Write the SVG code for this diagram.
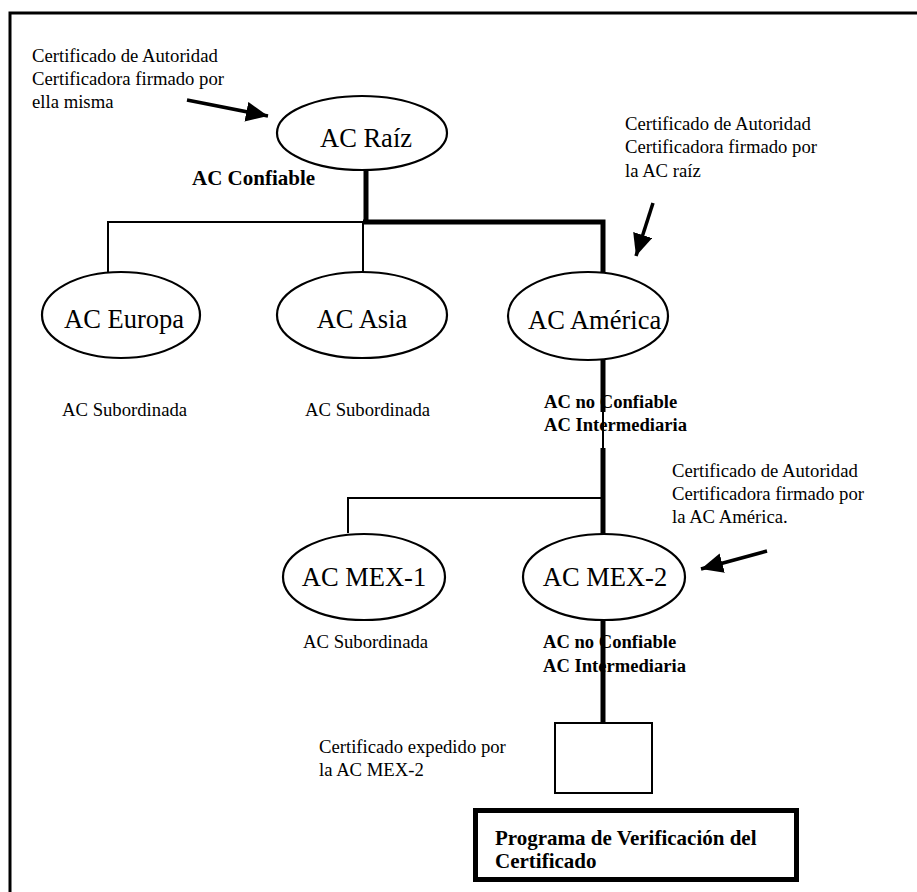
<svg xmlns="http://www.w3.org/2000/svg" width="917" height="892" viewBox="0 0 917 892">
  <style>
    .bg { fill: #ffffff; }
    .frame { fill: none; stroke: #000; stroke-width: 3; }
    .node { fill: #ffffff; stroke: #000; stroke-width: 2.2; }
    .name { font-family: "Liberation Serif", "Times New Roman", serif; font-size: 26.5px; fill: #000; }
    .note { font-family: "Liberation Serif", "Times New Roman", serif; font-size: 18.7px; fill: #000; }
    .tag { font-family: "Liberation Serif", "Times New Roman", serif; font-size: 18.6px; font-weight: bold; fill: #000; }
    .tag-lg { font-family: "Liberation Serif", "Times New Roman", serif; font-size: 21px; font-weight: bold; fill: #000; }
    .thin { fill: none; stroke: #000; stroke-width: 2; }
    .thick { fill: none; stroke: #000; stroke-width: 5; }
    .pointer { fill: none; stroke: #000; stroke-width: 3.5; }
  </style>
  <defs>
    <marker id="head" markerUnits="userSpaceOnUse" markerWidth="24" markerHeight="22" refX="22" refY="10" orient="auto">
      <path d="M0,0 L22,10 L0,20 Z" fill="#000"/>
    </marker>
  </defs>

  <rect class="bg" x="0" y="0" width="917" height="892"/>

  <!-- page frame: top and left rules -->
  <path class="frame" d="M10,892 L10,13 L917,13"/>

  <!-- hierarchy nodes -->
  <g id="ac-raiz">
    <ellipse class="node" cx="362" cy="133" rx="85" ry="37"/>
    <text class="name" x="366" y="147" text-anchor="middle">AC Raíz</text>
    <text class="tag-lg" x="192" y="185">AC Confiable</text>
  </g>

  <g id="ac-europa">
    <ellipse class="node" cx="121" cy="315" rx="79" ry="43"/>
    <text class="name" x="124" y="328" text-anchor="middle">AC Europa</text>
    <text class="note" x="62" y="416">AC Subordinada</text>
  </g>

  <g id="ac-asia">
    <ellipse class="node" cx="362" cy="315" rx="85" ry="43"/>
    <text class="name" x="362" y="328" text-anchor="middle">AC Asia</text>
    <text class="note" x="305" y="416">AC Subordinada</text>
  </g>

  <g id="ac-america">
    <ellipse class="node" cx="588" cy="316" rx="80" ry="44"/>
    <text class="name" x="528" y="329">AC América</text>
    <text class="tag" x="544" y="408">AC no Confiable</text>
    <text class="tag" x="544" y="431">AC Intermediaria</text>
  </g>

  <g id="ac-mex-1">
    <ellipse class="node" cx="364" cy="577" rx="81" ry="43"/>
    <text class="name" x="364" y="586" text-anchor="middle">AC MEX-1</text>
    <text class="note" x="303" y="648">AC Subordinada</text>
  </g>

  <g id="ac-mex-2">
    <ellipse class="node" cx="604" cy="577" rx="81" ry="43"/>
    <text class="name" x="605" y="586" text-anchor="middle">AC MEX-2</text>
    <text class="tag" x="543" y="648">AC no Confiable</text>
    <text class="tag" x="543" y="672">AC Intermediaria</text>
  </g>

  <g id="certificado">
    <rect x="555" y="723" width="97" height="70" fill="#ffffff" stroke="#000" stroke-width="2"/>
  </g>

  <g id="programa-verificacion">
    <rect x="475.5" y="810.5" width="321" height="69" fill="#ffffff" stroke="#000" stroke-width="5"/>
    <text class="tag-lg" x="495" y="845" font-size="21.5">Programa de Verificación del</text>
    <text class="tag-lg" x="495" y="868" font-size="21.5">Certificado</text>
  </g>

  <!-- annotations -->
  <g id="notes">
    <text class="note" x="32" y="62">Certificado de Autoridad</text>
    <text class="note" x="32" y="85">Certificadora firmado por</text>
    <text class="note" x="32" y="108">ella misma</text>

    <text class="note" x="625" y="130">Certificado de Autoridad</text>
    <text class="note" x="625" y="153">Certificadora firmado por</text>
    <text class="note" x="625" y="177">la AC raíz</text>

    <text class="note" x="672" y="477">Certificado de Autoridad</text>
    <text class="note" x="672" y="500">Certificadora firmado por</text>
    <text class="note" x="672" y="523">la AC América.</text>

    <text class="note" x="319" y="753">Certificado expedido por</text>
    <text class="note" x="319" y="776">la AC MEX-2</text>
  </g>

  <!-- tree connectors: thick strokes mark the certification path -->
  <g id="connectors">
    <path class="thin" d="M108,273 L108,222 L363,222 L363,272"/>
    <path class="thin" d="M348,533 L348,498 L603,498"/>
    <path class="thick" d="M366,170 L366,222"/>
    <path class="thick" d="M363,222 L603,222 L603,272"/>
    <path class="thick" d="M603,360 L603,412"/>
    <path class="thin" d="M603,412 L603,448"/>
    <path class="thick" d="M603,448 L603,534"/>
    <path class="thick" d="M603,620 L603,723"/>
  </g>

  <!-- pointer arrows from annotations -->
  <g id="pointers">
    <line class="pointer" x1="187" y1="100" x2="268" y2="116" marker-end="url(#head)"/>
    <line class="pointer" x1="653" y1="203" x2="636" y2="256" marker-end="url(#head)"/>
    <line class="pointer" x1="767" y1="551" x2="701" y2="569" marker-end="url(#head)"/>
  </g>
</svg>
